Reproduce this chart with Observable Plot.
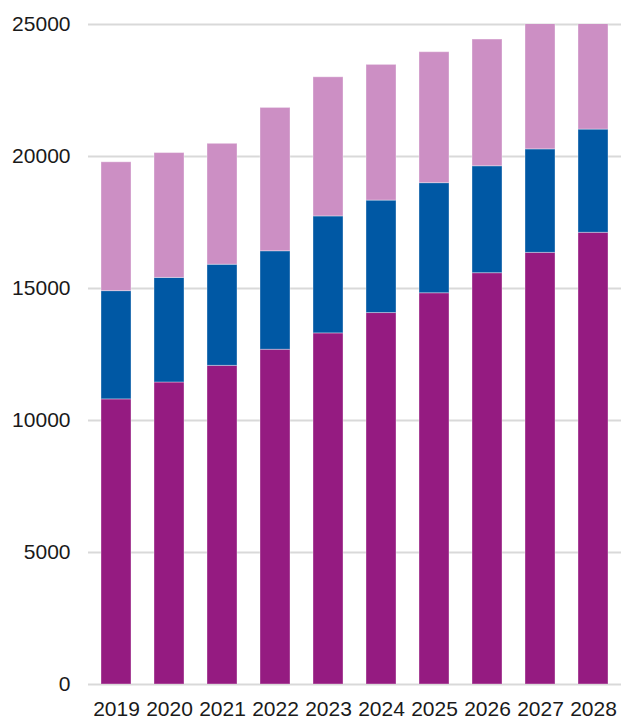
<!DOCTYPE html>
<html>
<head>
<meta charset="utf-8">
<script src="https://cdn.jsdelivr.net/npm/d3@7"></script>
<script src="https://cdn.jsdelivr.net/npm/@observablehq/plot@0.6"></script>
<style>
  html, body { margin: 0; padding: 0; background: #fff; }
  #chart svg { display: block; }
</style>
</head>
<body>
<div id="chart"></div>
<script>
const years = ["2019","2020","2021","2022","2023","2024","2025","2026","2027","2028"];
const seriesNames = ["Series 1", "Series 2", "Series 3"];
const series1 = [10800, 11440, 12070, 12680, 13300, 14070, 14820, 15580, 16350, 17110];
const series2 = [4100, 3960, 3830, 3730, 4430, 4260, 4170, 4050, 3920, 3910];
const series3 = [4880, 4730, 4580, 5430, 5270, 5140, 4960, 4800, 4930, 4780];
const yTicks = [0, 5000, 10000, 15000, 20000, 25000];
const colors = ["#951B81", "#0058A4", "#CC8FC4"];

const allSeries = [series1, series2, series3];
const data = [];
allSeries.forEach((vals, s) => {
  years.forEach((yr, i) => data.push({year: yr, series: seriesNames[s], value: vals[i]}));
});

const chart = Plot.plot({
  width: 622,
  height: 720,
  marginLeft: 88,
  marginRight: 1,
  marginTop: 24,
  marginBottom: 36,
  style: {fontFamily: "'Liberation Sans', Arial, sans-serif", fontSize: "21px", color: "#000", background: "#fff"},
  x: {domain: years, paddingInner: 0.4375, paddingOuter: 0.21875, label: null},
  y: {domain: [0, 25000], label: null},
  color: {domain: seriesNames, range: colors},
  marks: [
    Plot.gridY(yTicks, {stroke: "#d9d9d9", strokeOpacity: 1, strokeWidth: 2}),
    Plot.barY(data, {x: "year", y: "value", fill: "series", order: seriesNames, clip: true,
      stroke: "#ffffff", strokeOpacity: 0.35, strokeWidth: 1}),
    Plot.axisX({tickSize: 0, tickPadding: 17, fontSize: 21, label: null, fill: "#1a1a1a"}),
    Plot.axisY(yTicks, {tickSize: 0, tickPadding: 18, fontSize: 21, label: null, fill: "#1a1a1a", tickFormat: d => String(d)})
  ]
});
document.getElementById("chart").appendChild(chart);
</script>
</body>
</html>
